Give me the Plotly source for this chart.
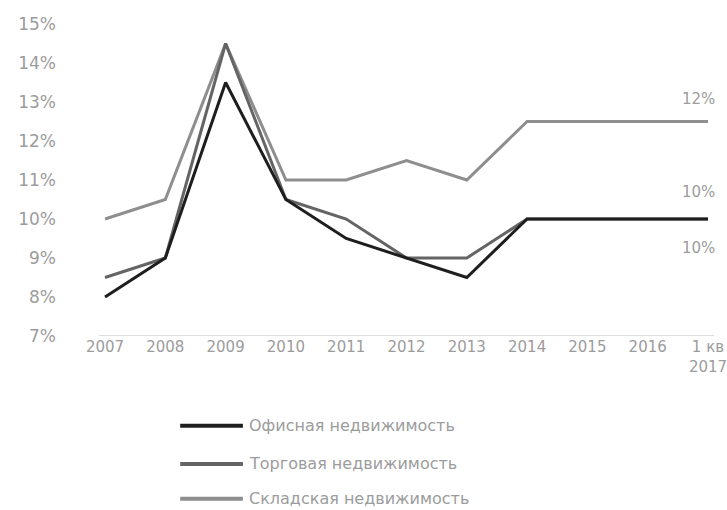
import plotly.graph_objects as go

categories = ["2007", "2008", "2009", "2010", "2011", "2012", "2013", "2014", "2015", "2016", "1 кв<br>2017"]
office = [8.0, 9.0, 13.5, 10.5, 9.5, 9.0, 8.5, 10.0, 10.0, 10.0, 10.0]
retail = [8.5, 9.0, 14.5, 10.5, 10.0, 9.0, 9.0, 10.0, 10.0, 10.0, 10.0]
warehouse = [10.0, 10.5, 14.5, 11.0, 11.0, 11.5, 11.0, 12.5, 12.5, 12.5, 12.5]
series_names = ["Офисная недвижимость", "Торговая недвижимость", "Складская недвижимость"]
series_colors = ["#1e1e1e", "#646464", "#8e8e8e"]
y_ticks = [7, 8, 9, 10, 11, 12, 13, 14, 15]
end_labels = ["10%", "10%", "12%"]

xs = list(range(len(categories)))
fig = go.Figure()
series = [office, retail, warehouse]
# draw warehouse first so darker lines are on top
for i in [2, 1, 0]:
    fig.add_trace(go.Scatter(x=xs, y=series[i], mode="lines", name=series_names[i],
                             line=dict(color=series_colors[i], width=3), showlegend=False))

txt_color = "#9c9c9c"
font_family = "DejaVu Sans"

# end labels
shifts = [-29, 27, 23]
for i in range(3):
    fig.add_annotation(x=xs[-1], y=series[i][-1], text=end_labels[i], showarrow=False,
                       xanchor="right", xshift=9, yshift=shifts[i],
                       font=dict(family=font_family, size=15, color=txt_color))

# custom legend
leg_y = [-0.288, -0.410, -0.522]
for i in range(3):
    fig.add_shape(type="line", xref="paper", yref="paper", x0=0.132, x1=0.234,
                  y0=leg_y[i], y1=leg_y[i], line=dict(color=series_colors[i], width=4))
    fig.add_annotation(xref="paper", yref="paper", x=0.240, y=leg_y[i], text=series_names[i],
                       showarrow=False, xanchor="left", yanchor="middle",
                       font=dict(family=font_family, size=16, color=txt_color))

fig.update_layout(
    width=727, height=510,
    margin=dict(l=99, r=13, t=24, b=174, autoexpand=False),
    paper_bgcolor="white", plot_bgcolor="white",
    xaxis=dict(range=[-0.1, 10.1], tickvals=xs, ticktext=categories, showgrid=False,
               zeroline=False, showline=False, ticks="", ticklabeloverflow="allow",
               automargin=False,
               tickfont=dict(family=font_family, size=15, color=txt_color)),
    yaxis=dict(range=[7, 15], tickvals=y_ticks, ticktext=[f"{v}%" for v in y_ticks],
               showgrid=False, zeroline=False, showline=False, ticks="",
               ticklabelstandoff=42, automargin=False,
               tickfont=dict(family=font_family, size=17, color=txt_color)),
)
# baseline at 7%
fig.add_shape(type="line", xref="paper", yref="y", x0=0, x1=1, y0=7, y1=7,
              line=dict(color="#d4d4d4", width=1.5))

fig.write_html("out.html")
